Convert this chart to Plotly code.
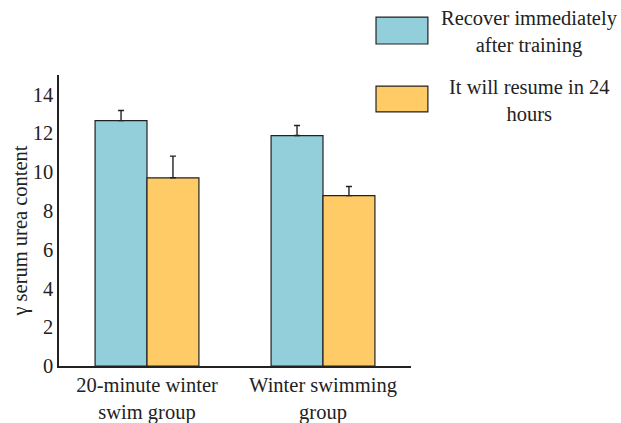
import plotly.graph_objects as go

# Groups, series and measured values (mean and upper error)
groups = ["20-minute winter<br>swim group", "Winter swimming<br>group"]
series_names = ["Recover immediately<br>after training", "It will resume in 24<br>hours"]
immediate_vals = [12.65, 11.88]
immediate_err = [0.52, 0.52]
resume24_vals = [9.70, 8.78]
resume24_err = [1.12, 0.47]
y_ticks = [0, 2, 4, 6, 8, 10, 12, 14]
y_title = "γ serum urea content"

colors = ["#93CEDB", "#FECB66"]
FONT = "Liberation Serif"
FS = 20.5

fig = go.Figure()
for name, vals, errs, col in [
    (series_names[0], immediate_vals, immediate_err, colors[0]),
    (series_names[1], resume24_vals, resume24_err, colors[1]),
]:
    fig.add_trace(go.Bar(
        x=groups, y=vals, name=name,
        marker=dict(color=col, line=dict(color="#222222", width=1.2)),
        error_y=dict(type="data", array=errs, arrayminus=[0] * len(errs),
                     symmetric=False, color="#222222", thickness=1.4, width=3),
        showlegend=False,
    ))

# Legend drawn as swatches with centered two-line labels
swatch_y = [(1.1065, 1.199), (0.873, 0.962)]
label_y = [1.148, 0.914]
for col, (y0, y1), ly, name in zip(colors, swatch_y, label_y, series_names):
    fig.add_shape(type="rect", xref="paper", yref="paper",
                  x0=0.9006, x1=1.048, y0=y0, y1=y1,
                  fillcolor=col, line=dict(color="#222222", width=1.2))
    fig.add_annotation(xref="paper", yref="paper", x=1.338, y=ly,
                       text=name, showarrow=False, align="center",
                       xanchor="center", yanchor="middle",
                       font=dict(family=FONT, size=FS, color="#222222"))

# Vertical y-axis title, sitting slightly below the axis midpoint
fig.add_annotation(xref="paper", yref="paper", x=-0.109, y=0.464,
                   text=y_title, textangle=-90, showarrow=False,
                   xanchor="center", yanchor="middle",
                   font=dict(family=FONT, size=FS, color="#222222"))

fig.update_layout(
    width=621, height=423,
    margin=dict(l=59, r=210, t=75, b=57, autoexpand=False),
    paper_bgcolor="white", plot_bgcolor="white",
    barmode="group", bargap=0.41, bargroupgap=0,
    font=dict(family=FONT, size=FS, color="#222222"),
    xaxis=dict(showline=True, linecolor="#222222", linewidth=1.5,
               ticks="", showgrid=False, range=[-0.5, 1.5], automargin=False,
               tickfont=dict(family=FONT, size=FS)),
    yaxis=dict(showline=True, linecolor="#222222", linewidth=1.5,
               ticks="", showgrid=False, zeroline=False, automargin=False,
               range=[0, 15], tickvals=y_ticks,
               tickfont=dict(family=FONT, size=FS)),
)

fig.write_html("out.html")
